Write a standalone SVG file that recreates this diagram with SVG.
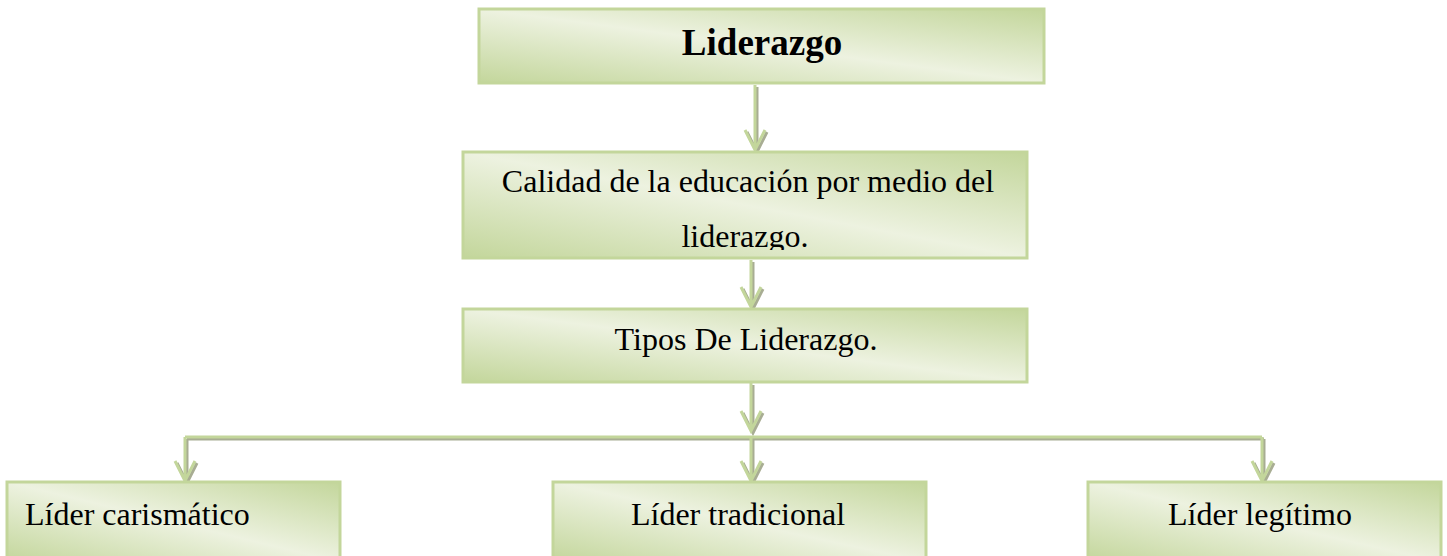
<svg xmlns="http://www.w3.org/2000/svg" width="1447" height="556" viewBox="0 0 1447 556">
<defs>
<linearGradient id="g" x1="0" y1="1" x2="1" y2="0">
<stop offset="0" stop-color="#c3d69b"/>
<stop offset="0.5" stop-color="#edf2e0"/>
<stop offset="1" stop-color="#c3d69b"/>
</linearGradient>
<clipPath id="c2"><rect x="463" y="152" width="564" height="98"/></clipPath>
</defs>
<style>
.box{fill:url(#g);stroke:#c3d69b;stroke-width:3}
.t{font-family:"Liberation Serif","Times New Roman",serif;font-size:32px;fill:#000}
.b{font-weight:bold;font-size:37px}
.sh{fill:none;stroke:#a8ad93;stroke-width:3}
.ln{fill:none;stroke:#c3d69b;stroke-width:3}
</style>
<g id="connectors">
<g class="sh" transform="translate(2,2)">
<path d="M755 85V150M745 130L755 150L765 130"/>
<path d="M751 260V307M741 287L751 307L761 287"/>
<path d="M751 383V431M741 411L751 431L761 411"/>
<path d="M185 437H1262"/>
<path d="M185 437V481M175 461L185 481L195 461"/>
<path d="M751 437V481M741 461L751 481L761 461"/>
<path d="M1262 437V481M1252 461L1262 481L1272 461"/>
</g>
<g class="ln">
<path d="M755 85V150M745 130L755 150L765 130"/>
<path d="M751 260V307M741 287L751 307L761 287"/>
<path d="M751 383V431M741 411L751 431L761 411"/>
<path d="M185 437H1262"/>
<path d="M185 437V481M175 461L185 481L195 461"/>
<path d="M751 437V481M741 461L751 481L761 461"/>
<path d="M1262 437V481M1252 461L1262 481L1272 461"/>
</g>
</g>
<g id="n1">
<rect class="box" x="479" y="9" width="565" height="74"/>
<text class="t b" x="762" y="55" text-anchor="middle">Liderazgo</text>
</g>
<g id="n2">
<rect class="box" x="463" y="152" width="564" height="106"/>
<g clip-path="url(#c2)">
<text class="t" x="748" y="192" text-anchor="middle">Calidad de la educación por medio del</text>
<text class="t" x="745" y="247" text-anchor="middle">liderazgo.</text>
</g>
</g>
<g id="n3">
<rect class="box" x="463" y="309" width="564" height="73"/>
<text class="t" x="746" y="350" text-anchor="middle">Tipos De Liderazgo.</text>
</g>
<g id="n4">
<rect class="box" x="7" y="482" width="333" height="80"/>
<text class="t" x="25" y="525">Líder carismático</text>
</g>
<g id="n5">
<rect class="box" x="553" y="482" width="373" height="80"/>
<text class="t" x="738" y="525" text-anchor="middle">Líder tradicional</text>
</g>
<g id="n6">
<rect class="box" x="1088" y="482" width="353" height="80"/>
<text class="t" x="1260" y="525" text-anchor="middle">Líder legítimo</text>
</g>
</svg>
